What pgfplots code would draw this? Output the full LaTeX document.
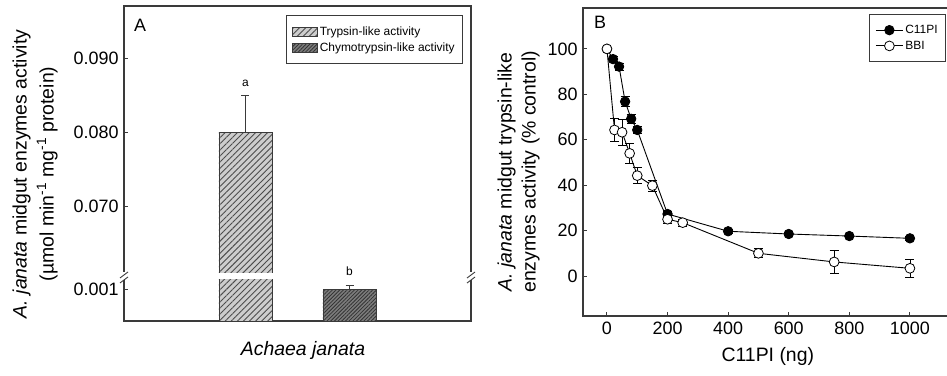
\documentclass[border=0pt]{standalone}
\usepackage{fontspec}
\setmainfont{Liberation Sans}
\usepackage{pgfplots}
\pgfplotsset{compat=1.18}
\usetikzlibrary{patterns.meta}
\definecolor{axgray}{HTML}{3A3A3A}
\definecolor{tryfill}{HTML}{CDCDCD}
\definecolor{chyfill}{HTML}{7C7C7C}
\begin{document}
\begin{tikzpicture}
\path[use as bounding box] (0,0) rectangle (947bp,376bp);
% ---------------- Panel A ----------------
\begin{axis}[
  at={(124bp,55bp)}, anchor=south west, scale only axis,
  width=347bp, height=315bp,
  xmin=-0.168, xmax=3.168, ymin=0.05446, ymax=0.09703,
  xtick=\empty,
  ytick={0.05878,0.07,0.08,0.09}, yticklabels={0.001,0.070,0.080,0.090},
  ytick pos=left, tick align=inside, major tick length=4bp,
  tick style={axgray, line width=0.9bp},
  axis line style={axgray, line width=1.1bp},
  tick label style={font=\fontsize{18}{20}\selectfont},
  yticklabel style={xshift=-2bp},
  ylabel={\textit{A. janata} midgut enzymes activity\\(µmol min\textsuperscript{-1} mg\textsuperscript{-1} protein)},
  ylabel style={at={(axis description cs:-0.256,0.467)}, anchor=center, align=center,
    font=\fontsize{19.5}{27}\selectfont},
  legend style={at={(axis description cs:0.977,0.971)}, anchor=north east,
    draw=axgray, line width=0.8bp, font=\fontsize{12}{14}\selectfont,
    inner xsep=6bp, inner ysep=9bp, row sep=2bp, cells={anchor=west}},
  legend image code/.code={\draw[#1] (0bp,-4.5bp) rectangle (25bp,4.5bp);},
  clip=true,
]
\addplot[ybar, bar width=0.51, bar shift=0pt, draw=axgray, line width=0.6bp,
  fill=tryfill,
  postaction={pattern={Lines[angle=45,distance=4.3bp,line width=0.9bp]}, pattern color=black!70},
  error bars/.cd, y dir=plus, y explicit,
  error bar style={axgray, line width=0.9bp},
  error mark options={rotate=90, axgray, line width=0.9bp, mark size=4bp}]
  coordinates {(1,0.080) +- (0,0.005)};
\addlegendentry{Trypsin-like activity}
\addplot[ybar, bar width=0.51, bar shift=0pt, draw=axgray, line width=0.6bp,
  fill=chyfill,
  postaction={pattern={Lines[angle=45,distance=2.6bp,line width=0.8bp]}, pattern color=black!80},
  error bars/.cd, y dir=plus, y explicit,
  error bar style={axgray, line width=0.9bp},
  error mark options={rotate=90, axgray, line width=0.9bp, mark size=4bp}]
  coordinates {(2,0.05878) +- (0,0.00054)};
\addlegendentry{Chymotrypsin-like activity}
\node[font=\fontsize{12}{14}\selectfont] at (axis cs:1,0.0866) {a};
\node[font=\fontsize{12}{14}\selectfont] at (axis cs:2,0.0612) {b};
\end{axis}
% axis break
\fill[white] (218bp,97bp) rectangle (273bp,103bp);
\fill[white] (119bp,96bp) rectangle (129bp,104bp);
\fill[white] (466bp,96bp) rectangle (476bp,104bp);
\foreach \xx in {124,471}{
  \draw[axgray, line width=0.9bp] (\xx bp-4bp,93bp) -- (\xx bp+4bp,99bp);
  \draw[axgray, line width=0.9bp] (\xx bp-4bp,98bp) -- (\xx bp+4bp,104bp);
}
\node[font=\fontsize{18}{20}\selectfont] at (140bp,351bp) {A};
\node[font=\fontsize{19.5}{22}\selectfont\itshape] at (303bp,26bp) {Achaea janata};
% ---------------- Panel B ----------------
\begin{axis}[
  at={(583bp,60bp)}, anchor=south west, scale only axis,
  width=366bp, height=308bp,
  xmin=-79, xmax=1129, ymin=-17.6, ymax=118,
  xtick={0,200,400,600,800,1000}, ytick={0,20,40,60,80,100},
  xtick pos=bottom, ytick pos=left, tick align=inside, major tick length=4bp,
  tick style={axgray, line width=0.9bp},
  axis line style={axgray, line width=1.1bp},
  scaled ticks=false,
  /pgf/number format/1000 sep={},
  /pgf/number format/assume math mode=true,
  tick label style={font=\fontsize{18}{20}\selectfont},
  yticklabel style={xshift=-2bp},
  xticklabel style={yshift=-2bp},
  xlabel={C11PI (ng)},
  xlabel style={at={(axis description cs:0.505,0)}, anchor=center, yshift=-40bp,
    font=\fontsize{19.5}{22}\selectfont},
  ylabel={\textit{A. janata} midgut trypsin-like\\enzymes activity (\% control)},
  ylabel style={at={(axis description cs:-0.176,0.468)}, anchor=center, align=center,
    font=\fontsize{19.5}{24}\selectfont},
  legend style={at={(axis description cs:0.992,0.981)}, anchor=north east,
    draw=axgray, line width=0.8bp, font=\fontsize{12}{13.5}\selectfont,
    inner xsep=6bp, inner ysep=9bp, row sep=2bp, cells={anchor=west}},
  legend image code/.code={\draw[mark repeat=2,mark phase=2,#1] plot coordinates {(0bp,0bp) (13.5bp,0bp) (27bp,0bp)};},
]
\addplot[black, line width=0.9bp, mark=*, mark size=4.7bp, mark options={fill=black, draw=black},
  error bars/.cd, y dir=both, y explicit,
  error bar style={black, line width=0.8bp},
  error mark options={rotate=90, black, line width=0.8bp, mark size=4.5bp}]
  coordinates {
  (0,100) +- (0,0)
  (20,95.5) +- (0,1.2)
  (40,92.2) +- (0,1.5)
  (60,76.8) +- (0,2.2)
  (80,69.2) +- (0,1.8)
  (100,64.3) +- (0,1.5)
  (200,27.3) +- (0,1.2)
  (400,19.7) +- (0,1.0)
  (600,18.5) +- (0,0.8)
  (800,17.6) +- (0,0.8)
  (1000,16.6) +- (0,0.8)
  };
\addlegendentry{C11PI}
\addplot[black, line width=0.9bp, mark=*, mark size=4.9bp, mark options={fill=white, draw=black, line width=0.8bp},
  error bars/.cd, y dir=both, y explicit,
  error bar style={black, line width=0.8bp},
  error mark options={rotate=90, black, line width=0.8bp, mark size=4.5bp}]
  coordinates {
  (0,100) +- (0,0)
  (25,64.3) +- (0,5.2)
  (50,63.3) +- (0,5.7)
  (75,54.0) +- (0,4.3)
  (100,44.2) +- (0,3.6)
  (150,39.8) +- (0,2.5)
  (200,25.0) +- (0,2.0)
  (250,23.5) +- (0,1.5)
  (500,10.0) +- (0,2.0)
  (750,6.2) +- (0,5.0)
  (1000,3.4) +- (0,4.0)
  };
\addlegendentry{BBI}
\end{axis}
\node[font=\fontsize{18}{20}\selectfont] at (600bp,354bp) {B};
\end{tikzpicture}
\end{document}
